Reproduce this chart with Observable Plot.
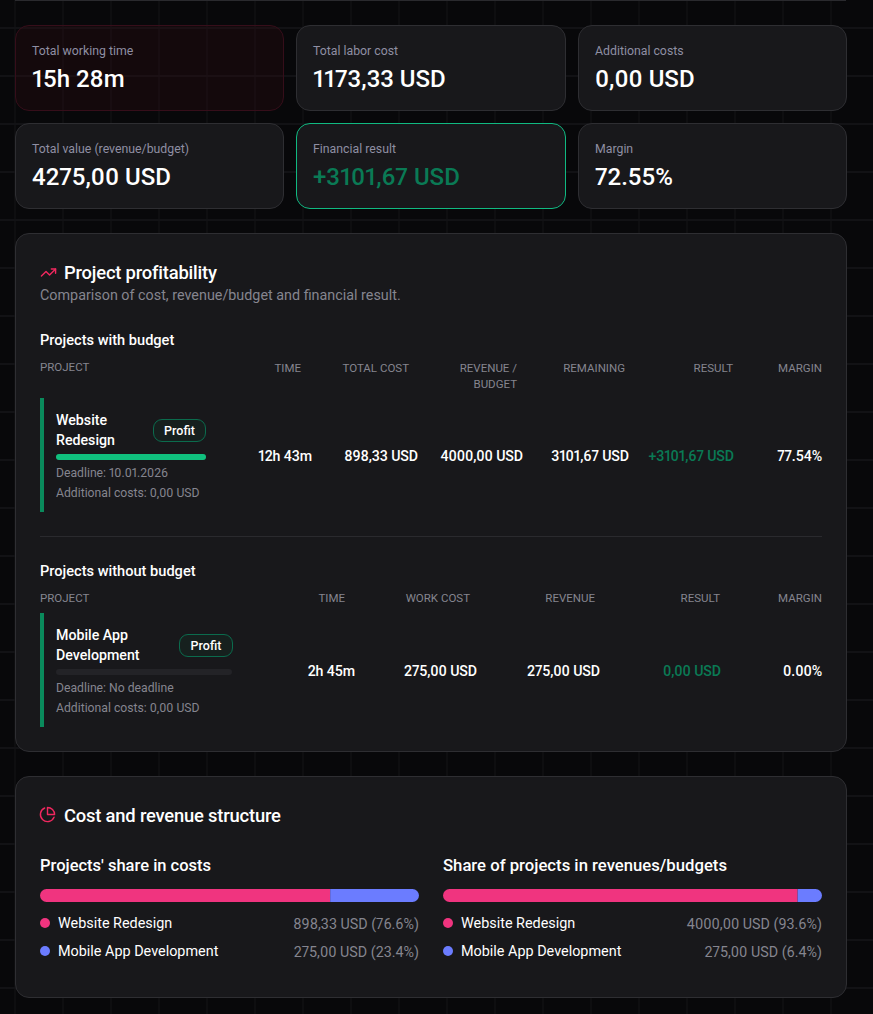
<!DOCTYPE html>
<html><head><meta charset="utf-8">
<script src="https://cdn.jsdelivr.net/npm/d3@7"></script>
<script src="https://cdn.jsdelivr.net/npm/@observablehq/plot@0.6"></script>
<style>
html,body{margin:0;padding:0;}
body{width:873px;height:1014px;overflow:hidden;position:relative;background-color:#08080a;
 background-image:linear-gradient(#121215 2px,transparent 2px),linear-gradient(90deg,#131316 1px,transparent 1px);
 background-size:48px 48px;background-position:0 27px,14.5px 0;
 font-family:Roboto,sans-serif;color:#fff;font-variant-numeric:proportional-nums;}
.abs,.card,.t{position:absolute;}
.t{white-space:nowrap;line-height:1;}
.card{box-sizing:border-box;background:#18181b;border:1px solid #2e2e32;border-radius:14px;}
.lab{font-size:12.3px;color:#8f8fa3;}
.big{font-size:24px;font-weight:500;}
.h2{font-size:18.4px;font-weight:500;letter-spacing:-.2px;}
.sub{font-size:14.35px;color:#85858f;}
.h3{font-size:14.6px;font-weight:500;}
.th{font-size:11.5px;color:#85858f;}
.td{font-size:14.2px;font-weight:500;letter-spacing:-.1px;}
.nm{font-size:14.2px;font-weight:500;line-height:20px;white-space:pre;}
.meta{font-size:12.2px;color:#85858f;}
.pill{position:absolute;box-sizing:border-box;height:23px;width:54px;border:1px solid #0b6b4d;border-radius:9px;font-size:12.5px;font-weight:500;text-align:center;line-height:21px;background:#16201e;}
.accent{position:absolute;width:4px;background:#0a8a5c;}
.dot{position:absolute;width:10px;height:10px;border-radius:50%;}
.chart{position:absolute;overflow:hidden;}
.chart svg{display:block;}
</style></head><body>
<script>
const kpiLabels=["Total working time","Total labor cost","Additional costs","Total value (revenue/budget)","Financial result","Margin"];
const kpiValues=["15h 28m","1173,33 USD","0,00 USD","4275,00 USD","+3101,67 USD","72.55%"];
const budgetHeaders=["TIME","TOTAL COST","REVENUE /\nBUDGET","REMAINING","RESULT","MARGIN"];
const budgetRow=["12h 43m","898,33 USD","4000,00 USD","3101,67 USD","+3101,67 USD","77.54%"];
const plainHeaders=["TIME","WORK COST","REVENUE","RESULT","MARGIN"];
const plainRow=["2h 45m","275,00 USD","275,00 USD","0,00 USD","0.00%"];
const projects=["Website Redesign","Mobile App Development"];
const deadlines=["Deadline: 10.01.2026","Deadline: No deadline"];
const budgetUse=[1,0];
const costs=[898.33,275];
const revenues=[4000,275];
const costLabels=["898,33 USD (76.6%)","275,00 USD (23.4%)"];
const revenueLabels=["4000,00 USD (93.6%)","275,00 USD (6.4%)"];
const colors=["#f0347f","#6b7cff"];
const GREEN="#0a7a55";

const B=document.body;
function el(cls,css,txt){const d=document.createElement("div");d.className=cls;d.style.cssText=css;if(txt!=null)d.textContent=txt;B.appendChild(d);return d;}
el("abs","left:15px;top:0;width:831px;height:1px;background:#2a2a2e");

// KPI cards
const cardX=[15,296,578],cardW=[269,270,269],cardY=[25,123],cardH=[86,86];
kpiLabels.forEach((l,i)=>{
  const c=i%3,r=Math.floor(i/3),x=cardX[c],y=cardY[r];
  const extra=i==0?"background:rgba(50,12,20,.3);border-color:#360e1a;":i==4?"border-color:#10b981;":"";
  el("card",`left:${x}px;top:${y}px;width:${cardW[c]}px;height:${cardH[r]}px;${extra}`);
  el("t lab",`left:${x+17}px;top:${y+20}px`,l);
  el("t big",`left:${x+17}px;top:${y+42}px;${i==4?"color:"+GREEN:""}`,kpiValues[i]);
});

// panels
el("card","left:15px;top:233px;width:832px;height:519px");
el("card","left:15px;top:776px;width:832px;height:222px");
const icon1=el("abs","left:40px;top:264px;width:17px;height:17px");
icon1.innerHTML='<svg width="17" height="17" viewBox="0 0 24 24" fill="none" stroke="#f0285f" stroke-width="2" stroke-linecap="round" stroke-linejoin="round"><polyline points="22 7 13.5 15.5 8.5 10.5 2 17"/><polyline points="16 7 22 7 22 13"/></svg>';
el("t h2","left:64px;top:264px","Project profitability");
el("t sub","left:40px;top:289px","Comparison of cost, revenue/budget and financial result.");
el("t h3","left:40px;top:333px","Projects with budget");

// budget table
el("t th","left:40px;top:362px","PROJECT");
const hR1=[301,409,517,625,733,822],vR1=[312,418,523,629,734,822];
budgetHeaders.forEach((h,i)=>{
  el("t th",`right:${873-hR1[i]}px;top:362px;white-space:pre;text-align:right;line-height:16px;margin-top:-2px`,h);
  el("t td",`right:${873-vR1[i]}px;top:449px;${i==4?"color:"+GREEN:""}`,budgetRow[i]);
});
el("accent","left:40px;top:398px;height:114px");
el("t nm","left:56px;top:410px","Website\nRedesign");
el("pill","left:153px;top:419px;width:53px","Profit");
el("t meta","left:56px;top:467px",deadlines[0]);
el("t meta","left:56px;top:487px","Additional costs: 0,00 USD");
el("abs","left:40px;top:536px;width:782px;height:1px;background:#2a2a2e");

// no-budget table
el("t h3","left:40px;top:564px","Projects without budget");
el("t th","left:40px;top:593px","PROJECT");
const hR2=[345,470,595,720,822],vR2=[355,477,600,721,822];
plainHeaders.forEach((h,i)=>{
  el("t th",`right:${873-hR2[i]}px;top:593px`,h);
  el("t td",`right:${873-vR2[i]}px;top:664px;${i==3?"color:"+GREEN:""}`,plainRow[i]);
});
el("accent","left:40px;top:613px;height:114px");
el("t nm","left:56px;top:625px","Mobile App\nDevelopment");
el("pill","left:179px;top:634px","Profit");
el("t meta","left:56px;top:682px",deadlines[1]);
el("t meta","left:56px;top:702px","Additional costs: 0,00 USD");

// Plot marks
function place(plot,x,y,w,h,r){const d=el("chart",`left:${x}px;top:${y}px;width:${w}px;height:${h}px;border-radius:${r}px`);d.appendChild(plot);}
function progress(v,w){
  return Plot.plot({width:w,height:6,margin:0,x:{domain:[0,1],axis:null},y:{axis:null},style:{background:"transparent"},
    marks:[Plot.barX([1],{x:d=>d,fill:"#232327"}),Plot.barX([v],{x:d=>d,fill:"#10c07e"})]});
}
place(progress(budgetUse[0],150),56,454,150,6,3);
place(progress(budgetUse[1],176),56,669,176,6,3);
function share(vals,w){
  const rows=projects.map((p,i)=>({project:p,value:vals[i]}));
  return Plot.plot({width:w,height:13,margin:0,x:{axis:null,domain:[0,d3.sum(vals)]},y:{axis:null},
    color:{domain:projects,range:colors},style:{background:"transparent"},
    marks:[Plot.barX(rows,Plot.stackX({x:"value",fill:"project",order:null}))]});
}
place(share(costs,379),40,889,379,13,6.5);
place(share(revenues,379),443,889,379,13,6.5);

// structure
const icon2=el("abs","left:39px;top:806px;width:17px;height:17px");
icon2.innerHTML='<svg width="17" height="17" viewBox="0 0 24 24" fill="none" stroke="#f0285f" stroke-width="2" stroke-linecap="round" stroke-linejoin="round"><path d="M21.21 15.89A10 10 0 1 1 8 2.83"/><path d="M22 12A10 10 0 0 0 12 2v10z"/></svg>';
el("t h2","left:64px;top:807px","Cost and revenue structure");
el("t","left:40px;top:858px;font-size:16.5px;font-weight:500","Projects' share in costs");
el("t","left:443px;top:858px;font-size:16.7px;font-weight:500","Share of projects in revenues/budgets");
[[40,419,costLabels],[443,822,revenueLabels]].forEach(([l,r,labs])=>{
  projects.forEach((p,i)=>{
    const y=i?951:923;
    el("dot",`left:${l}px;top:${y-5}px;background:${colors[i]}`);
    el("t",`left:${l+18}px;top:${y-6}px;font-size:14.4px`,p);
    el("t",`right:${873-r}px;top:${y-6}px;font-size:14.3px;color:#85858f`,labs[i]);
  });
});
</script>
</body></html>
